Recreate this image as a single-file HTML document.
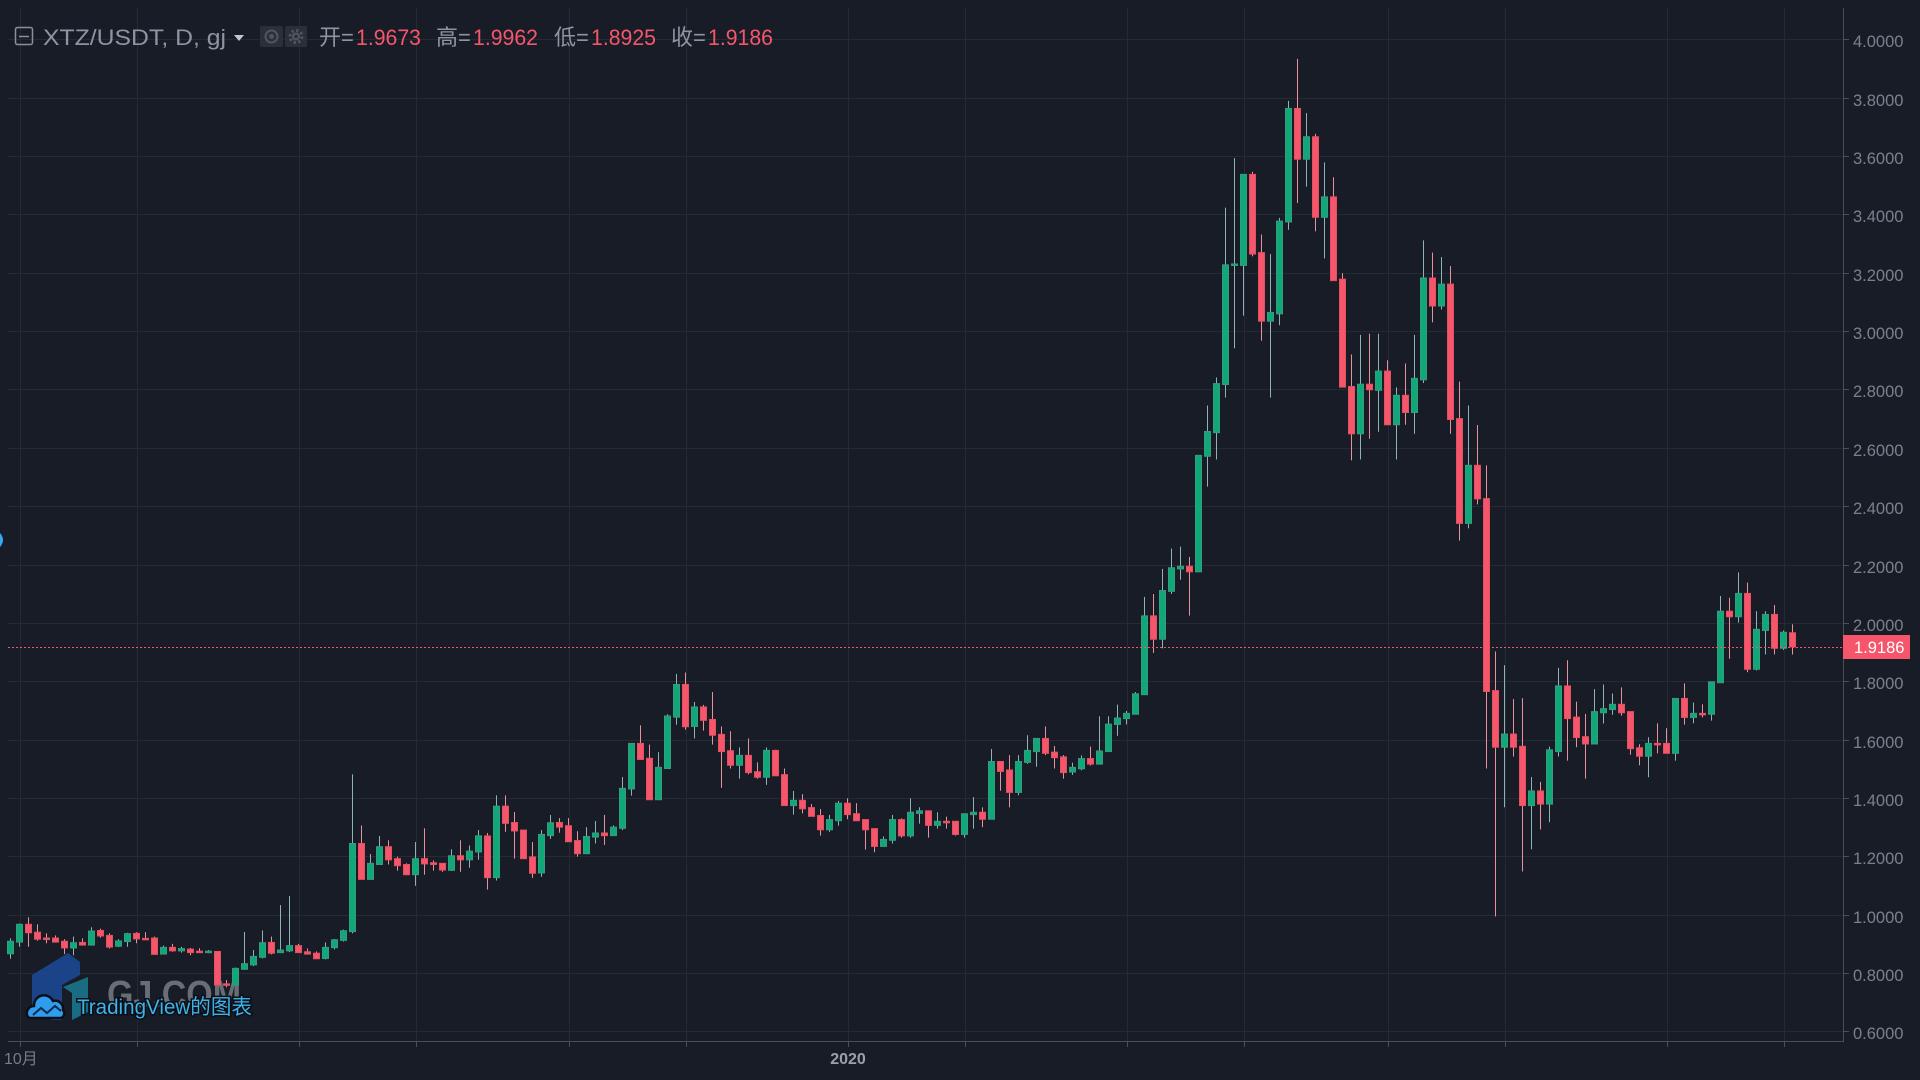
<!DOCTYPE html>
<html>
<head>
<meta charset="utf-8">
<style>
html,body{margin:0;padding:0;background:#181c27;width:1920px;height:1080px;overflow:hidden;}
svg{display:block;}
text{font-family:"Liberation Sans","Noto Sans CJK SC",sans-serif;}
</style>
</head>
<body>
<svg id="chart" width="1920" height="1080" viewBox="0 0 1920 1080" xmlns="http://www.w3.org/2000/svg">
  <rect x="0" y="0" width="1920" height="1080" fill="#181c27"/>
  <!-- horizontal grid -->
  <g stroke="#252a35" stroke-width="1">
    <line x1="8" x2="1843" y1="1031.5" y2="1031.5"/>
    <line x1="8" x2="1843" y1="973.5" y2="973.5"/>
    <line x1="8" x2="1843" y1="915.5" y2="915.5"/>
    <line x1="8" x2="1843" y1="856.5" y2="856.5"/>
    <line x1="8" x2="1843" y1="798.5" y2="798.5"/>
    <line x1="8" x2="1843" y1="740.5" y2="740.5"/>
    <line x1="8" x2="1843" y1="681.5" y2="681.5"/>
    <line x1="8" x2="1843" y1="623.5" y2="623.5"/>
    <line x1="8" x2="1843" y1="565.5" y2="565.5"/>
    <line x1="8" x2="1843" y1="506.5" y2="506.5"/>
    <line x1="8" x2="1843" y1="448.5" y2="448.5"/>
    <line x1="8" x2="1843" y1="389.5" y2="389.5"/>
    <line x1="8" x2="1843" y1="331.5" y2="331.5"/>
    <line x1="8" x2="1843" y1="273.5" y2="273.5"/>
    <line x1="8" x2="1843" y1="214.5" y2="214.5"/>
    <line x1="8" x2="1843" y1="156.5" y2="156.5"/>
    <line x1="8" x2="1843" y1="98.5" y2="98.5"/>
    <line x1="8" x2="1843" y1="39.5" y2="39.5"/>
  </g>
  <!-- vertical grid -->
  <g stroke="#252a35" stroke-width="1">
    <line x1="20.5" x2="20.5" y1="8" y2="1041"/>
    <line x1="137.5" x2="137.5" y1="8" y2="1041"/>
    <line x1="299.5" x2="299.5" y1="8" y2="1041"/>
    <line x1="416.5" x2="416.5" y1="8" y2="1041"/>
    <line x1="569.5" x2="569.5" y1="8" y2="1041"/>
    <line x1="686.5" x2="686.5" y1="8" y2="1041"/>
    <line x1="848.5" x2="848.5" y1="8" y2="1041"/>
    <line x1="965.5" x2="965.5" y1="8" y2="1041"/>
    <line x1="1127.5" x2="1127.5" y1="8" y2="1041"/>
    <line x1="1244.5" x2="1244.5" y1="8" y2="1041"/>
    <line x1="1388.5" x2="1388.5" y1="8" y2="1041"/>
    <line x1="1505.5" x2="1505.5" y1="8" y2="1041"/>
    <line x1="1667.5" x2="1667.5" y1="8" y2="1041"/>
    <line x1="1784.5" x2="1784.5" y1="8" y2="1041"/>
  </g>

  <!-- watermark GJ logo -->
  <g opacity="0.85">
    <polygon points="32,975 68,953 80,962 80,975 62,985 62,1020 52,1020 32,1008" fill="#1b4b98"/>
    <polygon points="63,987 88,977 88,1012 72,1020 72,993" fill="#1b7a94"/>
  </g>
  <text x="107" y="1007" font-size="38" font-weight="bold" fill="#a0a3a9" opacity="0.6" textLength="134" lengthAdjust="spacingAndGlyphs">GJ.COM</text>

  <!-- candles -->
  <g id="candles"></g>

  <!-- current price dotted line -->
  <line x1="8" x2="1843" y1="647.5" y2="647.5" stroke="#f6566b" stroke-width="1" stroke-dasharray="2 2"/>

  <!-- TradingView watermark -->
  <g>
    <path d="M29 1018 a7 7 0 0 1 5 -12 a10 10 0 0 1 19 -5 a8 8 0 0 1 10 9 a5 5 0 0 1 -2 8 z" fill="#2f9ded" stroke="#0c0f15" stroke-width="2.5"/>
    <polyline points="33,1015 41,1008 47,1013 55,1006 61,1011" fill="none" stroke="#0c2a4a" stroke-width="2"/>
  </g>
  <text x="77" y="1014" font-size="21" fill="#3fb1ea" stroke="#0c0f15" stroke-width="3" paint-order="stroke" textLength="175" lengthAdjust="spacingAndGlyphs">TradingView的图表</text>

  <!-- price axis -->
  <line x1="1843.5" x2="1843.5" y1="8" y2="1042" stroke="#4a4e57" stroke-width="1"/>
  <line x1="8" x2="1844" y1="1041.5" y2="1041.5" stroke="#4a4e57" stroke-width="1"/>
  <g stroke="#4a4e57" stroke-width="1">
    <line x1="1844" x2="1849" y1="1031.5" y2="1031.5"/>
    <line x1="1844" x2="1849" y1="973.5" y2="973.5"/>
    <line x1="1844" x2="1849" y1="915.5" y2="915.5"/>
    <line x1="1844" x2="1849" y1="856.5" y2="856.5"/>
    <line x1="1844" x2="1849" y1="798.5" y2="798.5"/>
    <line x1="1844" x2="1849" y1="740.5" y2="740.5"/>
    <line x1="1844" x2="1849" y1="681.5" y2="681.5"/>
    <line x1="1844" x2="1849" y1="623.5" y2="623.5"/>
    <line x1="1844" x2="1849" y1="565.5" y2="565.5"/>
    <line x1="1844" x2="1849" y1="506.5" y2="506.5"/>
    <line x1="1844" x2="1849" y1="448.5" y2="448.5"/>
    <line x1="1844" x2="1849" y1="389.5" y2="389.5"/>
    <line x1="1844" x2="1849" y1="331.5" y2="331.5"/>
    <line x1="1844" x2="1849" y1="273.5" y2="273.5"/>
    <line x1="1844" x2="1849" y1="214.5" y2="214.5"/>
    <line x1="1844" x2="1849" y1="156.5" y2="156.5"/>
    <line x1="1844" x2="1849" y1="98.5" y2="98.5"/>
    <line x1="1844" x2="1849" y1="39.5" y2="39.5"/>
    <!-- time ticks -->
    <line x1="20.5" x2="20.5" y1="1042" y2="1047"/>
    <line x1="137.5" x2="137.5" y1="1042" y2="1047"/>
    <line x1="299.5" x2="299.5" y1="1042" y2="1047"/>
    <line x1="416.5" x2="416.5" y1="1042" y2="1047"/>
    <line x1="569.5" x2="569.5" y1="1042" y2="1047"/>
    <line x1="686.5" x2="686.5" y1="1042" y2="1047"/>
    <line x1="848.5" x2="848.5" y1="1042" y2="1047"/>
    <line x1="965.5" x2="965.5" y1="1042" y2="1047"/>
    <line x1="1127.5" x2="1127.5" y1="1042" y2="1047"/>
    <line x1="1244.5" x2="1244.5" y1="1042" y2="1047"/>
    <line x1="1388.5" x2="1388.5" y1="1042" y2="1047"/>
    <line x1="1505.5" x2="1505.5" y1="1042" y2="1047"/>
    <line x1="1667.5" x2="1667.5" y1="1042" y2="1047"/>
    <line x1="1784.5" x2="1784.5" y1="1042" y2="1047"/>
  </g>
  <g font-size="16.5" fill="#7b818c">
    <text x="1853" y="1039">0.6000</text>
    <text x="1853" y="981">0.8000</text>
    <text x="1853" y="923">1.0000</text>
    <text x="1853" y="864">1.2000</text>
    <text x="1853" y="806">1.4000</text>
    <text x="1853" y="748">1.6000</text>
    <text x="1853" y="689">1.8000</text>
    <text x="1853" y="631">2.0000</text>
    <text x="1853" y="573">2.2000</text>
    <text x="1853" y="514">2.4000</text>
    <text x="1853" y="456">2.6000</text>
    <text x="1853" y="397">2.8000</text>
    <text x="1853" y="339">3.0000</text>
    <text x="1853" y="281">3.2000</text>
    <text x="1853" y="222">3.4000</text>
    <text x="1853" y="164">3.6000</text>
    <text x="1853" y="106">3.8000</text>
    <text x="1853" y="47">4.0000</text>
  </g>
  <!-- price label -->
  <rect x="1843" y="635" width="67" height="24" fill="#f6566b"/>
  <text x="1854" y="653" font-size="16.5" fill="#ffffff">1.9186</text>

  <!-- time labels -->
  <text x="4" y="1064" font-size="16" fill="#787c86">10月</text>
  <text x="848" y="1064" font-size="16" font-weight="bold" fill="#9ba1ab" text-anchor="middle">2020</text>

  <!-- left marker -->
  <path d="M0 533 Q6 540 0 547 Z" fill="#3aa6f0"/>

  <!-- header legend -->
  <rect x="15.5" y="27.5" width="17" height="17" rx="2" fill="none" stroke="#8a909a" stroke-width="1.5"/>
  <line x1="19" x2="29" y1="36.5" y2="36.5" stroke="#8a909a" stroke-width="1.5"/>
  <text x="43" y="45" font-size="22" fill="#8d95a2" textLength="183" lengthAdjust="spacingAndGlyphs">XTZ/USDT, D, gj</text>
  <polygon points="234,35 244,35 239,41" fill="#c3c6cd"/>
  <rect x="260" y="26" width="23" height="21" rx="2" fill="#2a2f3a"/>
  <circle cx="271.5" cy="36.5" r="6" fill="none" stroke="#4f545e" stroke-width="2"/>
  <circle cx="271.5" cy="36.5" r="2.5" fill="#4f545e"/>
  <rect x="285" y="26" width="22" height="21" rx="2" fill="#2a2f3a"/>
  <circle cx="296" cy="36.5" r="6" fill="none" stroke="#4f545e" stroke-width="3" stroke-dasharray="2.4 2.3"/>
  <circle cx="296" cy="36.5" r="4" fill="#4f545e"/>
  <circle cx="296" cy="36.5" r="1.8" fill="#2a2f3a"/>
  <g font-size="22">
    <text x="319" y="45" fill="#8d95a2">开=</text>
    <text x="356" y="45" fill="#f6566b" textLength="65" lengthAdjust="spacingAndGlyphs">1.9673</text>
    <text x="436" y="45" fill="#8d95a2">高=</text>
    <text x="473" y="45" fill="#f6566b" textLength="65" lengthAdjust="spacingAndGlyphs">1.9962</text>
    <text x="554" y="45" fill="#8d95a2">低=</text>
    <text x="591" y="45" fill="#f6566b" textLength="65" lengthAdjust="spacingAndGlyphs">1.8925</text>
    <text x="671" y="45" fill="#8d95a2">收=</text>
    <text x="708" y="45" fill="#f6566b" textLength="65" lengthAdjust="spacingAndGlyphs">1.9186</text>
  </g>
</svg>
<script>
(function(){
var D=[
[0.867,0.920,0.850,0.910],[0.907,0.971,0.891,0.968],[0.968,0.992,0.891,0.939],[0.941,0.968,0.912,0.917],[0.921,0.937,0.903,0.917],
[0.921,0.930,0.906,0.907],[0.910,0.917,0.866,0.887],[0.887,0.926,0.862,0.905],[0.906,0.920,0.895,0.897],[0.897,0.958,0.895,0.945],
[0.947,0.953,0.922,0.928],[0.930,0.937,0.885,0.890],[0.893,0.917,0.890,0.911],[0.909,0.939,0.891,0.936],[0.937,0.941,0.903,0.918],
[0.920,0.941,0.917,0.917],[0.921,0.926,0.865,0.865],[0.866,0.895,0.865,0.889],[0.889,0.901,0.874,0.877],[0.877,0.891,0.871,0.885],
[0.883,0.887,0.862,0.871],[0.876,0.886,0.871,0.872],[0.873,0.880,0.869,0.876],[0.875,0.875,0.760,0.760],[0.764,0.777,0.752,0.761],
[0.760,0.820,0.760,0.817],[0.814,0.942,0.812,0.833],[0.829,0.880,0.825,0.858],[0.855,0.947,0.851,0.905],[0.906,0.926,0.865,0.869],
[0.871,1.034,0.871,0.880],[0.877,1.065,0.873,0.895],[0.895,0.901,0.871,0.871],[0.874,0.885,0.864,0.866],[0.869,0.875,0.850,0.850],
[0.851,0.906,0.848,0.889],[0.888,0.918,0.882,0.915],[0.913,0.950,0.909,0.946],[0.943,1.482,0.937,1.245],[1.245,1.307,1.122,1.122],
[1.122,1.209,1.122,1.177],[1.173,1.271,1.173,1.234],[1.234,1.256,1.173,1.189],[1.193,1.200,1.152,1.169],[1.173,1.177,1.138,1.138],
[1.138,1.250,1.100,1.193],[1.193,1.297,1.138,1.175],[1.179,1.187,1.152,1.173],[1.177,1.177,1.148,1.154],[1.153,1.225,1.151,1.203],
[1.203,1.256,1.148,1.189],[1.189,1.238,1.162,1.219],[1.216,1.291,1.189,1.271],[1.271,1.281,1.087,1.128],[1.128,1.410,1.118,1.373],
[1.373,1.410,1.285,1.314],[1.317,1.353,1.193,1.288],[1.291,1.291,1.193,1.193],[1.199,1.250,1.127,1.143],[1.144,1.291,1.131,1.276],
[1.272,1.343,1.261,1.316],[1.317,1.332,1.282,1.301],[1.306,1.332,1.251,1.251],[1.255,1.287,1.200,1.210],[1.210,1.301,1.210,1.269],
[1.267,1.322,1.245,1.281],[1.281,1.343,1.240,1.272],[1.272,1.307,1.272,1.301],[1.297,1.473,1.291,1.434],[1.432,1.588,1.409,1.588],
[1.588,1.650,1.533,1.533],[1.537,1.584,1.395,1.395],[1.395,1.558,1.395,1.506],[1.502,1.688,1.502,1.682],[1.678,1.826,1.652,1.790],
[1.790,1.831,1.635,1.645],[1.646,1.730,1.605,1.713],[1.713,1.720,1.632,1.667],[1.670,1.764,1.584,1.616],[1.619,1.646,1.436,1.560],
[1.563,1.630,1.502,1.513],[1.513,1.574,1.467,1.547],[1.547,1.605,1.482,1.488],[1.491,1.523,1.467,1.472],[1.472,1.574,1.446,1.564],
[1.564,1.566,1.477,1.477],[1.481,1.502,1.375,1.375],[1.375,1.425,1.344,1.393],[1.393,1.414,1.348,1.364],[1.368,1.380,1.338,1.338],
[1.341,1.363,1.272,1.292],[1.292,1.343,1.285,1.327],[1.323,1.391,1.306,1.383],[1.383,1.400,1.328,1.344],[1.347,1.383,1.323,1.323],
[1.327,1.327,1.224,1.292],[1.296,1.296,1.215,1.235],[1.235,1.269,1.235,1.259],[1.256,1.343,1.245,1.327],[1.327,1.331,1.265,1.271],
[1.271,1.400,1.265,1.352],[1.348,1.369,1.313,1.357],[1.357,1.357,1.265,1.307],[1.307,1.352,1.296,1.321],[1.321,1.337,1.296,1.316],
[1.321,1.321,1.272,1.276],[1.276,1.347,1.265,1.347],[1.344,1.404,1.296,1.352],[1.352,1.369,1.301,1.328],[1.328,1.569,1.328,1.526],
[1.526,1.526,1.426,1.492],[1.497,1.548,1.369,1.420],[1.420,1.548,1.410,1.526],[1.523,1.616,1.518,1.564],[1.560,1.605,1.508,1.605],
[1.605,1.646,1.548,1.554],[1.558,1.579,1.502,1.539],[1.542,1.548,1.467,1.488],[1.490,1.522,1.480,1.506],[1.501,1.547,1.496,1.536],
[1.536,1.577,1.512,1.517],[1.517,1.681,1.517,1.562],[1.560,1.681,1.560,1.654],[1.653,1.721,1.614,1.675],[1.673,1.699,1.653,1.691],
[1.688,1.764,1.688,1.758],[1.755,2.090,1.755,2.025],[2.025,2.100,1.898,1.945],[1.945,2.186,1.914,2.112],[2.109,2.256,2.100,2.190],
[2.186,2.262,2.149,2.195],[2.195,2.227,2.026,2.176],[2.176,2.575,2.176,2.575],[2.572,2.746,2.468,2.657],[2.653,2.842,2.561,2.821],
[2.818,3.424,2.773,3.228],[3.226,3.594,2.942,3.231],[3.226,3.538,3.054,3.538],[3.538,3.547,3.257,3.265],[3.270,3.332,2.968,3.035],
[3.035,3.265,2.773,3.065],[3.060,3.389,3.021,3.378],[3.375,3.790,3.348,3.764],[3.764,3.934,3.440,3.590],[3.590,3.748,3.496,3.667],
[3.667,3.677,3.343,3.391],[3.391,3.579,3.250,3.461],[3.461,3.528,3.174,3.174],[3.179,3.199,2.809,2.809],[2.811,2.921,2.558,2.649],
[2.649,2.988,2.561,2.819],[2.819,2.992,2.632,2.800],[2.798,2.992,2.656,2.864],[2.864,2.901,2.680,2.680],[2.680,2.808,2.561,2.781],
[2.781,2.890,2.680,2.722],[2.722,2.988,2.649,2.839],[2.834,3.312,2.823,3.183],[3.183,3.270,3.031,3.087],[3.087,3.255,3.075,3.162],
[3.162,3.224,2.649,2.698],[2.701,2.828,2.283,2.342],[2.342,2.746,2.325,2.541],[2.541,2.679,2.407,2.426],[2.427,2.541,1.502,1.766],
[1.769,1.903,0.995,1.575],[1.575,1.856,1.369,1.620],[1.620,1.740,1.543,1.575],[1.578,1.743,1.149,1.375],[1.375,1.473,1.225,1.425],
[1.425,1.456,1.293,1.380],[1.380,1.577,1.318,1.566],[1.560,1.847,1.543,1.785],[1.785,1.873,1.529,1.673],[1.678,1.731,1.575,1.608],
[1.611,1.689,1.467,1.586],[1.586,1.774,1.586,1.697],[1.693,1.790,1.656,1.707],[1.704,1.759,1.686,1.722],[1.722,1.780,1.683,1.693],
[1.697,1.697,1.549,1.570],[1.573,1.585,1.513,1.544],[1.544,1.609,1.472,1.588],[1.588,1.657,1.554,1.585],[1.588,1.640,1.554,1.554],
[1.554,1.742,1.529,1.742],[1.742,1.794,1.652,1.677],[1.677,1.728,1.657,1.691],[1.691,1.722,1.677,1.686],[1.688,1.799,1.666,1.799],
[1.796,2.093,1.796,2.041],[2.041,2.087,1.878,2.022],[2.022,2.174,2.002,2.102],[2.102,2.139,1.832,1.842],[1.842,2.041,1.838,1.979],
[1.975,2.041,1.893,2.030],[2.030,2.062,1.893,1.914],[1.914,1.975,1.908,1.969],[1.9673,1.9962,1.8925,1.9186]
];
function Y(p){return 1031.7-(p-0.6)*291.8;}
var NS="http://www.w3.org/2000/svg";
var g=document.getElementById("candles");
function rect(x,y,w,h,fill,stroke){
  var r=document.createElementNS(NS,"rect");
  r.setAttribute("x",x);r.setAttribute("y",y);r.setAttribute("width",w);r.setAttribute("height",h);
  r.setAttribute("fill",fill);
  if(stroke){r.setAttribute("stroke",stroke);r.setAttribute("stroke-width","1");}
  g.appendChild(r);
}
for(var i=0;i<D.length;i++){
  var o=D[i][0],h=D[i][1],l=D[i][2],c=D[i][3];
  var up=c>o;
  var bx=7+9*i;
  var yh=Y(h),yl=Y(l);
  rect(bx+3,yh,1,Math.max(1,yl-yh),up?"#8fb3b5":"#e8909b");
  var yt=Y(Math.max(o,c)),yb=Y(Math.min(o,c));
  var hh=Math.max(1.5,yb-yt);
  rect(bx+0.5,yt,6,hh,up?"#0fa878":"#f6566b",up?"#3a9a7e":"#e5505f");
}
})();
</script>
</body>
</html>
